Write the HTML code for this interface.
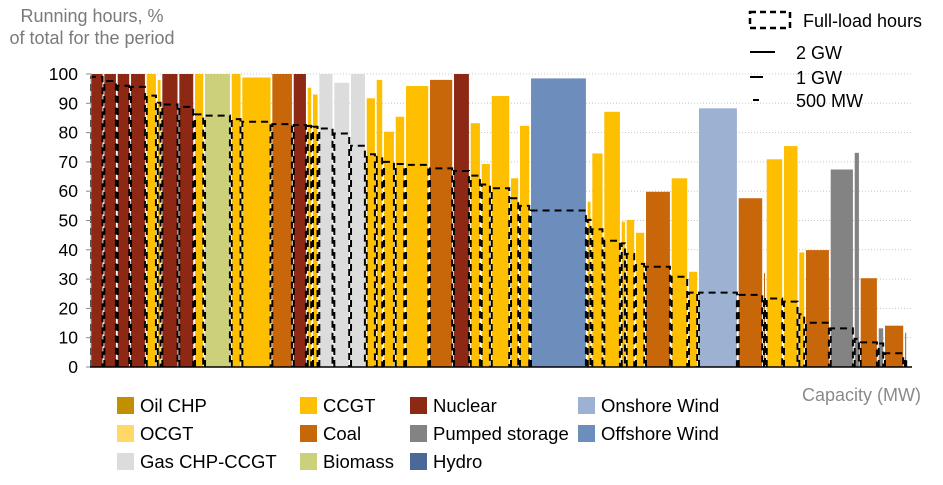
<!DOCTYPE html>
<html><head><meta charset="utf-8"><style>
body{margin:0;background:#fff}
svg text{font-family:"Liberation Sans",sans-serif}
</style></head><body>
<svg id="chart" width="943" height="480" xmlns="http://www.w3.org/2000/svg">
<g fill="#7a7a7a" font-size="18" text-anchor="middle">
<text x="92" y="22">Running hours, %</text>
<text x="92" y="44">of total for the period</text>
</g>
<g id="grid"></g>
<g id="bars"></g>
<g id="fl"></g>
<g id="yaxis"></g>
<line x1="90" y1="367" x2="912" y2="367" stroke="#000" stroke-width="1.5"/>
<text x="802" y="401" font-size="18" fill="#8a8a8a">Capacity (MW)</text>
<g font-size="18" fill="#000">
<rect x="750" y="12" width="40" height="16" fill="none" stroke="#000" stroke-width="2.5" stroke-dasharray="6,4"/>
<text x="803" y="27">Full-load hours</text>
<line x1="750" y1="52" x2="775" y2="52" stroke="#000" stroke-width="2"/>
<text x="796" y="59">2 GW</text>
<line x1="750" y1="77" x2="763" y2="77" stroke="#000" stroke-width="2"/>
<text x="796" y="84">1 GW</text>
<line x1="753" y1="100" x2="759" y2="100" stroke="#000" stroke-width="2"/>
<text x="796" y="107">500 MW</text>
</g>
<g id="legend" font-size="18.5"></g>
</svg>
<script>
const types=['N','N','N','N','C','C','N','N','C','B','C','C','K','N','C','C','G','G','G','C','C','C','C','C','K','N','C','C','C','C','C','OFF','C','C','C','C','C','C','K','C','C','ON','K','K','C','C','C','K','P','P','K','P','K','P'];
const capacity=[800,804,798,942,660,276,1020,942,600,1602,636,1800,1284,840,318,378,900,1002,942,600,438,702,618,1440,1440,1002,660,600,1158,540,660,3402,276,720,1044,300,558,600,1542,1038,600,2382,1518,162,1038,918,402,1482,1440,360,1080,378,1200,180];
const running=[100,100,100,100,100,98,100,100,100,100,100,98.8,100,100,95.3,93,100,97,100,91.7,98,80.3,85.4,95.9,98,100,83.2,69.3,92.5,64.4,82.3,98.5,56.4,72.9,87.1,49.6,50.2,45.8,59.8,64.4,32.5,88.3,57.6,32,70.9,75.4,39.1,39.9,67.4,73.1,30.3,13.2,14.1,11.7];
const fullLoad=[99,97.6,96,95.6,92.6,90.2,89.6,88.8,86.2,85.8,84.6,83.7,82.9,82.6,82.3,82,81.4,79.7,75.5,72.6,71.7,70,69.3,69,67.8,66.9,65.3,62.3,61,57.6,55,53.4,50.2,47,43.1,42.2,38.6,35.2,34.2,30.8,25.4,25.4,24.6,23.9,23.4,22.3,18,15.1,13.2,9.6,8.4,8,4.7,3];
const yTicks=[0,10,20,30,40,50,60,70,80,90,100];
const legendNames=['Oil CHP','OCGT','Gas CHP-CCGT','CCGT','Coal','Biomass','Nuclear','Pumped storage','Hydro','Onshore Wind','Offshore Wind'];
const colors={N:'#8c2814',C:'#fdbf00',K:'#c8660a',B:'#ccd07a',G:'#dcdcdc',OFF:'#6d8ebd',ON:'#9db2d3',P:'#838383'};
const legendColors=['#c09000','#ffd966','#dcdcdc','#fdbf00','#c8660a','#ccd07a','#8c2814','#838383','#4a6898','#9db2d3','#6d8ebd'];
const NS='http://www.w3.org/2000/svg';
const total=capacity.reduce((a,b)=>a+b,0);
const X0=91,X1=908,Y0=367,Y1=74;
const xs=v=>X0+(X1-X0)*v/total;
const ys=v=>Y0-(Y0-Y1)*v/100;
function mk(t,p,a){const e=document.createElementNS(NS,t);for(const k in a)e.setAttribute(k,a[k]);p.appendChild(e);return e;}
const grid=document.getElementById('grid'),ya=document.getElementById('yaxis');
yTicks.forEach(t=>{
 if(t>0){const g=mk('line',grid,{x1:91,x2:912,y1:ys(t),y2:ys(t),stroke:'#c8c8c8','stroke-dasharray':'1,2'});
 
 }
 const tk=mk('line',ya,{x1:86,x2:91,y1:ys(t),y2:ys(t),stroke:'#888'});
 
 
 const tx=mk('text',ya,{x:78,y:ys(t)+6,'text-anchor':'end','font-size':'17.5',fill:'#000'});
 tx.textContent=t;
 
 
});
mk('line',ya,{x1:91,x2:91,y1:Y1,y2:Y0,stroke:'#aaa'});
const bars=document.getElementById('bars'),fl=document.getElementById('fl');
let cum=0;
capacity.forEach((c,i)=>{
 const x=xs(cum),x2=xs(cum+c);cum+=c;
 const w=Math.max(1,x2-x-1.8);
 const r=mk('rect',bars,{x:x,y:ys(running[i]),width:w,height:Y0-ys(running[i]),fill:colors[types[i]]});
 
 
 const p=mk('path',fl,{d:`M${x},${Y0}V${ys(fullLoad[i])}H${x+w}V${Y0}`,fill:'none',stroke:'#000','stroke-width':'2','stroke-dasharray':'7,5'});
 
 
});
const lg=document.getElementById('legend');
const lx=[117,300,410,578],lyy=[397,425,453];
legendNames.forEach((n,i)=>{
 const col=Math.floor(i/3),row=i%3;
 const s=mk('rect',lg,{x:lx[col],y:lyy[row],width:17,height:17,fill:legendColors[i]});
 
 
 const t=mk('text',lg,{x:lx[col]+23,y:lyy[row]+15,fill:'#000'});
 t.textContent=n;
 
 
});
</script>
</body></html>
